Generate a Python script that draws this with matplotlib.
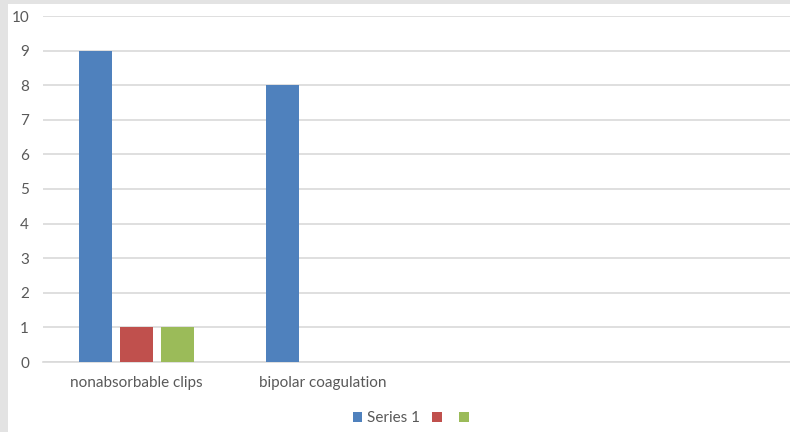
import numpy as np
import matplotlib.pyplot as plt
from matplotlib.patches import Rectangle, Patch

# 数据
categories = ['nonabsorbable clips', 'bipolar coagulation', '', '']
series_names = ['Series 1', '', '']
series1 = [9, 8, 0, 0]
series2 = [1, 0, 0, 0]
series3 = [1, 0, 0, 0]
colors = ['#4F81BD', '#C0504D', '#9BBB59']
y_ticks = list(range(0, 11))

plt.rcParams['font.family'] = ['Lato', 'DejaVu Sans']

fig = plt.figure(figsize=(7.9, 4.32), dpi=100)
fig.patch.set_facecolor('#E3E3E3')
# 白色图表区域
fig.patches.append(Rectangle((8 / 790, 0), 1 - 8 / 790, 1 - 4 / 432,
                             transform=fig.transFigure, facecolor='white',
                             edgecolor='none', zorder=-10))

ax = fig.add_axes([43 / 790, 70 / 432, 1 - 43 / 790, (362 - 16) / 432])
ax.set_zorder(1)
ax.set_facecolor('none')

x = np.arange(len(categories))
step = 0.218
width = 0.176
for i, vals in enumerate([series1, series2, series3]):
    ax.bar(x + (i - 1) * step, vals, width, color=colors[i], zorder=3)

ax.set_xlim(-0.5, len(categories) - 0.5)
ax.set_ylim(0, 10)
ax.set_yticks(y_ticks)
ax.set_xticks(x)
ax.set_xticklabels(categories)
ax.tick_params(axis='both', length=0, colors='#595959', labelsize=11)
ax.tick_params(axis='y', pad=10)
ax.tick_params(axis='x', pad=10)
ax.yaxis.grid(True, color='#D9D9D9', linewidth=1.2, zorder=0)
for s in ['top', 'right', 'left']:
    ax.spines[s].set_visible(False)
ax.spines['bottom'].set_color('#D9D9D9')
ax.spines['bottom'].set_linewidth(1.2)

handles = [Patch(facecolor=c, edgecolor='none') for c in colors]
leg = fig.legend(handles, series_names, loc='center', bbox_to_anchor=(413 / 790, 1 - 418 / 432),
                 ncol=3, frameon=False, handlelength=0.65, handleheight=0.65,
                 handletextpad=0.3, columnspacing=0.8, fontsize=11, labelcolor='#595959')
leg.set_zorder(2)

fig.savefig('out.png', dpi=100, facecolor=fig.get_facecolor())
